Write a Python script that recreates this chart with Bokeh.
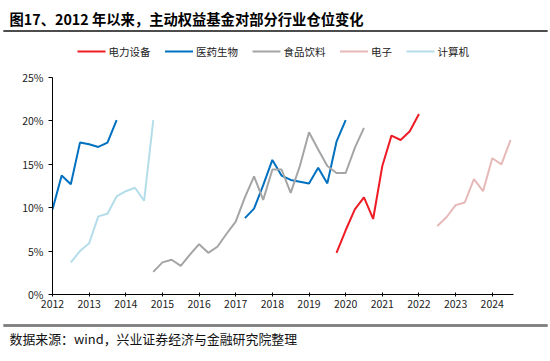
from bokeh.plotting import figure
from bokeh.models import Range1d, FixedTicker, NumeralTickFormatter, BoxAnnotation
from bokeh.core.properties import value
from bokeh.embed import file_html
from bokeh.resources import INLINE

# ---- data (quarterly fund holdings, %) ----
power_start = "2019Q4"
power = [4.8, 7.4, 9.8, 11.2, 8.7, 14.8, 18.3, 17.8, 18.8, 20.8]
pharma_a_start = "2012Q1"
pharma_a = [9.8, 13.7, 12.7, 17.5, 17.3, 17.0, 17.5, 20.1]
pharma_b_start = "2017Q2"
pharma_b = [8.8, 9.9, 12.6, 15.5, 13.7, 13.2, 13.0, 12.8, 14.6, 12.8, 17.6, 20.1]
food_start = "2014Q4"
food = [2.6, 3.7, 4.0, 3.3, 4.6, 5.8, 4.8, 5.5, 7.0, 8.4, 11.2, 13.6, 10.9, 14.4,
        14.4, 11.7, 14.8, 18.7, 16.7, 14.8, 14.0, 14.0, 16.9, 19.2]
elec_start = "2022Q3"
elec = [7.9, 8.9, 10.3, 10.6, 13.3, 11.9, 15.7, 15.0, 17.8]
comp_start = "2012Q3"
comp = [3.7, 5.0, 5.9, 9.0, 9.3, 11.3, 11.9, 12.3, 10.8, 20.1]

years = [2012, 2013, 2014, 2015, 2016, 2017, 2018, 2019, 2020, 2021, 2022, 2023, 2024]
y_ticks = [0, 0.05, 0.10, 0.15, 0.20, 0.25]
names = ["电力设备", "医药生物", "食品饮料", "电子", "计算机"]
colors = ["#EE1C25", "#0070C0", "#A5A5A5", "#E6B9B8", "#B4DDEA"]

title_text = "图17、2012 年以来，主动权益基金对部分行业仓位变化"
source_text = "数据来源：wind，兴业证券经济与金融研究院整理"

FONT = "Noto Sans CJK SC"
W = 550
H_HEAD, H_MAIN, H_FOOT = 62, 256, 43


def qx(start, n):
    y0 = int(start[:4]) + (int(start[5]) - 1) / 4
    return [y0 + i / 4 for i in range(n)]


def frac(vals):
    return [v / 100 for v in vals]


def blank(h):
    f = figure(width=W, height=h, output_backend="svg", toolbar_location=None,
               x_range=Range1d(0, W), y_range=Range1d(0, h),
               x_axis_type=None, y_axis_type=None,
               min_border_left=0, min_border_right=0, min_border_top=0, min_border_bottom=0)
    f.outline_line_color = None
    f.xgrid.visible = False
    f.ygrid.visible = False
    return f


def rule(f, y, thick, color):
    f.add_layout(BoxAnnotation(left=3, right=547, bottom=y - thick / 2, top=y + thick / 2,
                               fill_color=color, fill_alpha=1, line_color=None))
    f.hbar(y=[y], left=[3], right=[547], height=thick, fill_color=color, line_color=None)


# ---- header: title, rule, legend ----
head = blank(H_HEAD)
head.text(x=[9], y=[H_HEAD - 18], text=[title_text], text_font=value(FONT), text_font_size="14.3px",
          text_font_style="bold", text_color="#000000", text_baseline="middle")
rule(head, H_HEAD - 30.5, 1.6, "#404040")

x0 = 77
ly = H_HEAD - 51
for n, c in zip(names, colors):
    head.segment(x0=[x0], y0=[ly], x1=[x0 + 28], y1=[ly], line_color=c, line_width=2)
    head.text(x=[x0 + 31], y=[ly], text=[n], text_font=value(FONT), text_font_size="10.5px",
              text_color="#222222", text_baseline="middle")
    x0 += 31 + 10.5 * len(n) + 14.5

# ---- main chart ----
p = figure(width=W, height=H_MAIN, output_backend="svg", toolbar_location=None,
           x_range=Range1d(2012, 2024.58), y_range=Range1d(0, 0.25),
           min_border_left=52, min_border_right=37, min_border_top=15,
           min_border_bottom=24)
p.outline_line_color = None
p.xgrid.visible = False
p.ygrid.visible = False

lw = 2
p.line(qx(power_start, len(power)), frac(power), line_color=colors[0], line_width=lw)
p.line(qx(pharma_a_start, len(pharma_a)), frac(pharma_a), line_color=colors[1], line_width=lw)
p.line(qx(pharma_b_start, len(pharma_b)), frac(pharma_b), line_color=colors[1], line_width=lw)
p.line(qx(food_start, len(food)), frac(food), line_color=colors[2], line_width=lw)
p.line(qx(elec_start, len(elec)), frac(elec), line_color=colors[3], line_width=lw)
p.line(qx(comp_start, len(comp)), frac(comp), line_color=colors[4], line_width=lw)

xa = p.xaxis[0]
xa.ticker = FixedTicker(ticks=years)
xa.major_label_overrides = {y: str(y) for y in years}
xa.minor_tick_line_color = None
xa.major_tick_in = 2
xa.major_tick_out = 2
xa.axis_line_color = "#000000"
xa.major_tick_line_color = "#000000"
xa.major_label_text_font = FONT
xa.major_label_text_font_size = "10.5px"
xa.major_label_text_color = "#222222"
xa.major_label_standoff = 3

ya = p.yaxis[0]
ya.ticker = FixedTicker(ticks=y_ticks)
ya.formatter = NumeralTickFormatter(format="0%")
ya.minor_tick_line_color = None
ya.major_tick_in = 0
ya.major_tick_out = 4
ya.axis_line_color = "#000000"
ya.major_tick_line_color = "#000000"
ya.major_label_text_font = FONT
ya.major_label_text_font_size = "10.5px"
ya.major_label_text_color = "#222222"
ya.major_label_standoff = 5

# ---- footer: rule and source ----
foot = blank(H_FOOT)
rule(foot, H_FOOT - 7, 2.6, "#808080")
foot.text(x=[9], y=[H_FOOT - 20], text=[source_text], text_font=value(FONT), text_font_size="12.9px",
          text_color="#111111", text_baseline="middle")

open("out.html", "w").write(file_html([head, p, foot], INLINE))
